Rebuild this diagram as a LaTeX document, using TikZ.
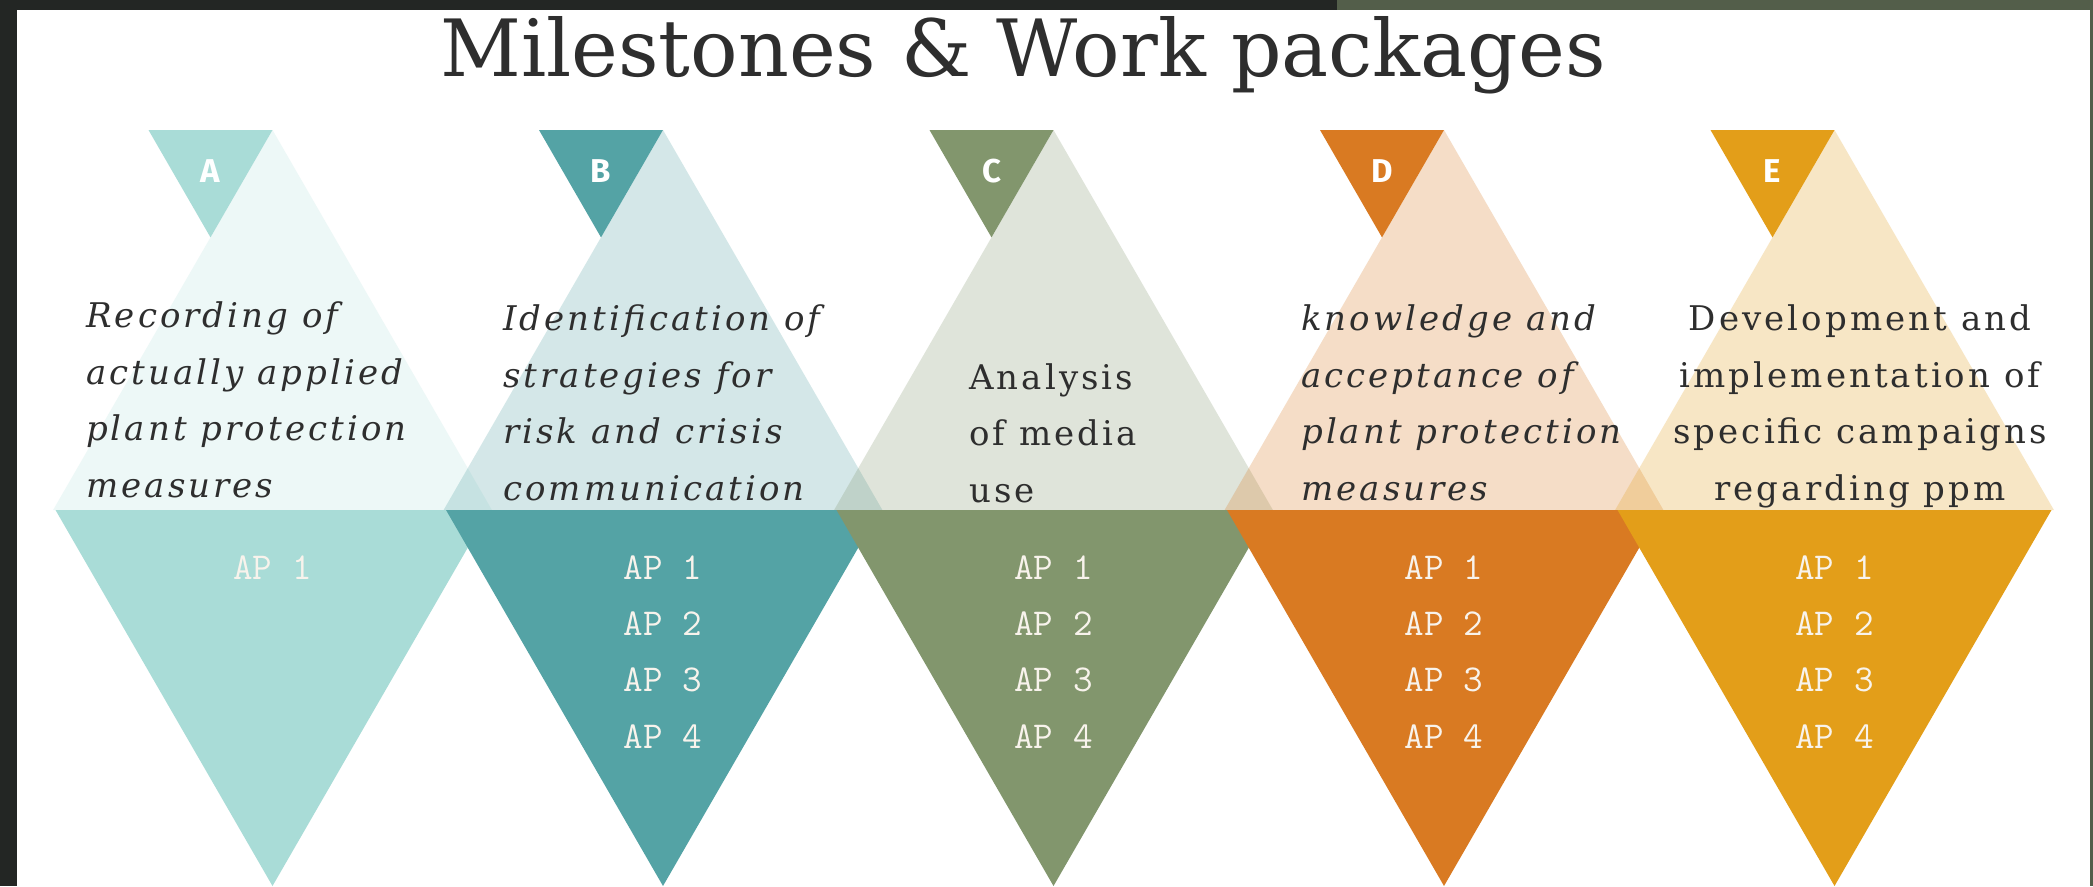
\documentclass[tikz,border=0pt]{standalone}
\usepackage{fontspec}
\setmainfont{DejaVu Serif}
\newfontfamily\lblfont{Fira Sans}
\definecolor{colA}{HTML}{A9DCD7}
\definecolor{colB}{HTML}{54A3A5}
\definecolor{colC}{HTML}{82966D}
\definecolor{colD}{HTML}{D97A22}
\definecolor{colE}{HTML}{E39E19}
\definecolor{frameDark}{HTML}{232624}
\definecolor{frameGreen}{HTML}{535E4A}
\definecolor{txt}{HTML}{2E2E2E}
\definecolor{apwhite}{HTML}{F8F3EC}
\tikzset{
  bodytext/.style={anchor=base west, align=left, inner sep=0pt, text=txt, font=\fontsize{34}{56.5}\selectfont\addfontfeature{LetterSpace=9}},
  bodyital/.style={bodytext, font=\fontsize{34}{56.5}\selectfont\itshape\addfontfeature{LetterSpace=9}},
  aplabel/.style={anchor=base, align=center, inner sep=0pt, text=apwhite, font=\fontsize{38}{56.3}\selectfont\ttfamily\addfontfeature{FakeBold=1.5}},
  letterlbl/.style={anchor=base, inner sep=0pt, text=white, font=\fontsize{33}{33}\selectfont\lblfont\bfseries},
}
\begin{document}
\begin{tikzpicture}[x=1pt,y=-1pt]
\useasboundingbox (0,0) rectangle (2093,886);
\fill[white] (0,0) rectangle (2093,886);
% frame
\fill[frameDark] (0,0) rectangle (1337,10);
\fill[frameGreen] (1337,0) rectangle (2093,10);
\fill[frameDark] (0,0) rectangle (17,886);
\fill[frameGreen] (2090,0) rectangle (2093,886);
% title
\node[anchor=base, inner sep=0pt, text=txt, font=\fontsize{79}{79}\selectfont] (title) at (1023,76) {Milestones \& Work packages};
% light upright triangles
\foreach \c/\col/\op in {272.5/colA/0.2, 663/colB/0.25, 1053.5/colC/0.25, 1444/colD/0.25, 1834.5/colE/0.25} {
  \fill[\col, fill opacity=\op] (\c,130) -- (\c+219.4,510) -- (\c-219.4,510) -- cycle;
  \fill[\col] (\c-124,130) -- (\c,130) -- (\c-62,237.4) -- cycle;
}
% lower inverted triangles
\foreach \c/\col in {272.5/colA, 663/colB, 1053.5/colC, 1444/colD, 1834.5/colE} {
  \fill[\col] (\c-217,510) -- (\c+217,510) -- (\c,886) -- cycle;
}
% letters
\node[letterlbl] (lA) at (210.5,182) {A};
\node[letterlbl] (lB) at (601,182) {B};
\node[letterlbl] (lC) at (991.5,182) {C};
\node[letterlbl] (lD) at (1382,182) {D};
\node[letterlbl] (lE) at (1772.5,182) {E};
% descriptions (anchored at the baseline of the last line)
\node[bodyital] (tA) at (86,497) {Recording of\\actually applied\\plant protection\\measures};
\node[bodyital] (tB) at (503,500) {Identification of\\strategies for\\risk and crisis\\communication};
\node[bodytext] (tC) at (969,502) {Analysis\\of media\\use};
\node[bodyital] (tD) at (1301,500) {knowledge and\\acceptance of\\plant protection\\measures};
\node[bodytext, anchor=base, align=center] (tE) at (1860,500) {Development and\\implementation of\\specific campaigns\\regarding ppm};
% work packages
\node[aplabel] (apA) at (272.5,579) {AP 1};
\node[aplabel] (apB) at (663,748) {AP 1\\AP 2\\AP 3\\AP 4};
\node[aplabel] (apC) at (1053.5,748) {AP 1\\AP 2\\AP 3\\AP 4};
\node[aplabel] (apD) at (1444,748) {AP 1\\AP 2\\AP 3\\AP 4};
\node[aplabel] (apE) at (1834.5,748) {AP 1\\AP 2\\AP 3\\AP 4};
\end{tikzpicture}
\end{document}
